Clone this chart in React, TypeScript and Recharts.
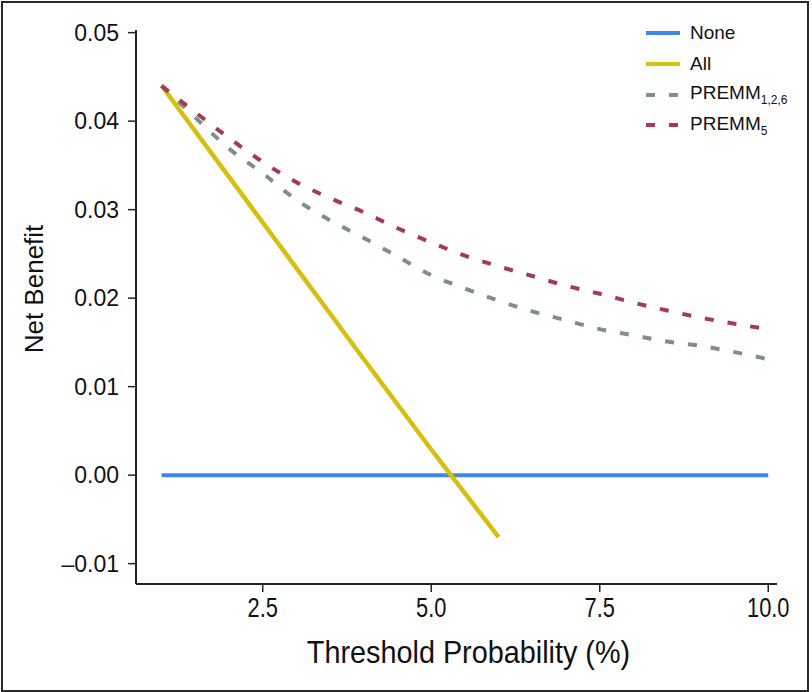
import { LineChart, Line, XAxis, YAxis, Label } from "recharts"

// threshold probability (%) for the model curves
const thresholds = [1, 1.5, 2, 2.5, 3, 3.5, 4, 4.5, 5, 5.5, 6, 6.5, 7, 7.5, 8, 8.5, 9, 9.5, 10]
const premm126 = [
  0.044, 0.0404, 0.0369, 0.0341, 0.0311, 0.0288, 0.0268, 0.0247, 0.0226, 0.0211,
  0.0197, 0.0185, 0.0175, 0.0165, 0.0158, 0.0151, 0.0146, 0.0139, 0.0131,
]
const premm5 = [
  0.044, 0.041, 0.0381, 0.0354, 0.0331, 0.0313, 0.0297, 0.0279, 0.0263, 0.0248,
  0.0236, 0.0225, 0.0214, 0.0205, 0.0195, 0.0186, 0.0178, 0.0171, 0.0165,
]
const allThresholds = [1, 2, 3, 4, 5, 6]
const allValues = [0.044, 0.0337, 0.0234, 0.0131, 0.0029, -0.007]
const noneThresholds = [1, 10]
const noneValues = [0, 0]

const xTicks = [2.5, 5, 7.5, 10]
const yTicks = [-0.01, 0, 0.01, 0.02, 0.03, 0.04, 0.05]

const toRows = (xs: number[], ys: number[]) => xs.map((x, i) => ({ x, y: ys[i] }))

const noneData = toRows(noneThresholds, noneValues)
const allData = toRows(allThresholds, allValues)
const premm126Data = toRows(thresholds, premm126)
const premm5Data = toRows(thresholds, premm5)

const fmtY = (v: number) => (v < 0 ? "\u2013" + Math.abs(v).toFixed(2) : v.toFixed(2))

const sansFont = "Liberation Sans, Arial, sans-serif"

const legendItems = [
  { name: "None", sub: "", color: "#3f86ea", dash: false },
  { name: "All", sub: "", color: "#d8be0e", dash: false },
  { name: "PREMM", sub: "1,2,6", color: "#7d8e8e", dash: true },
  { name: "PREMM", sub: "5", color: "#a63a50", dash: true },
]

function LegendBox() {
  return (
    <div style={{ position: "absolute", left: 646, top: 18, fontFamily: sansFont, fontSize: 19, color: "#111" }}>
      {legendItems.map((it, i) => (
        <div key={i} style={{ display: "flex", alignItems: "center", height: 30.7 }}>
          <svg width={34} height={8} style={{ marginRight: 10 }}>
            <line
              x1={0}
              y1={4}
              x2={34}
              y2={4}
              stroke={it.color}
              strokeWidth={4}
              strokeDasharray={it.dash ? "9 14" : undefined}
            />
          </svg>
          <span>
            {it.name}
            {it.sub && <sub style={{ fontSize: 12 }}>{it.sub}</sub>}
          </span>
        </div>
      ))}
    </div>
  )
}

// x tick labels are set in a condensed face in the original
function CondensedTick({ x, y, payload }: any) {
  return (
    <text
      transform={`translate(${x} ${y + 23}) scale(0.78 1)`}
      textAnchor="middle"
      fill="#111"
      fontSize={28}
      fontFamily={sansFont}
    >
      {payload.value.toFixed(1)}
    </text>
  )
}

export default function App() {
  return (
    <div style={{ position: "absolute", left: 0, top: 0, width: 812, height: 692, background: "#fff" }}>
      <div
        style={{
          position: "absolute",
          left: 1,
          top: 1,
          width: 804,
          height: 687,
          border: "2px solid #2a2a2a",
        }}
      />
      <LineChart width={812} height={692} margin={{ top: 30, right: 35, left: 0, bottom: 0 }}>
        <XAxis
          type="number"
          dataKey="x"
          domain={[0.62, 10.13]}
          ticks={xTicks}
          tick={<CondensedTick />}
          height={108}
          axisLine={{ stroke: "#222", strokeWidth: 2 }}
          tickLine={{ stroke: "#222", strokeWidth: 1.5 }}
          tickSize={8}
          allowDataOverflow
        >
          <Label
            content={({ viewBox }: any) => {
              const cx = viewBox.x + viewBox.width / 2 + 12
              const cy = viewBox.y + 67
              return (
                <text
                  transform={`translate(${cx} ${cy}) scale(0.9 1)`}
                  textAnchor="middle"
                  dominantBaseline="central"
                  fill="#111"
                  fontSize={32}
                  fontFamily={sansFont}
                >
                  Threshold Probability (%)
                </text>
              )
            }}
          />
        </XAxis>
        <YAxis
          type="number"
          domain={[-0.0123, 0.0503]}
          ticks={yTicks}
          tickFormatter={fmtY}
          width={136}
          axisLine={{ stroke: "#222", strokeWidth: 2 }}
          tickLine={{ stroke: "#222", strokeWidth: 1.5 }}
          tickSize={8}
          tickMargin={9}
          tick={{ fill: "#111", fontSize: 23, fontFamily: sansFont }}
          allowDataOverflow
        >
          <Label
            content={({ viewBox }: any) => {
              const cy = viewBox.y + viewBox.height / 2 - 18
              return (
                <text
                  x={34}
                  y={cy}
                  transform={`rotate(-90 34 ${cy})`}
                  textAnchor="middle"
                  dominantBaseline="central"
                  fill="#111"
                  fontSize={26}
                  fontFamily={sansFont}
                >
                  Net Benefit
                </text>
              )
            }}
          />
        </YAxis>
        <Line
          data={noneData}
          dataKey="y"
          name="None"
          stroke="#3f86ea"
          strokeWidth={4}
          dot={false}
          isAnimationActive={false}
        />
        <Line
          data={allData}
          dataKey="y"
          name="All"
          type="linear"
          stroke="#d8be0e"
          strokeWidth={4.5}
          dot={false}
          isAnimationActive={false}
        />
        <Line
          data={premm126Data}
          dataKey="y"
          name="PREMM1,2,6"
          type="monotone"
          stroke="#7d8e8e"
          strokeWidth={4}
          strokeDasharray="9 14"
          dot={false}
          isAnimationActive={false}
        />
        <Line
          data={premm5Data}
          dataKey="y"
          name="PREMM5"
          type="monotone"
          stroke="#a63a50"
          strokeWidth={4}
          strokeDasharray="9 14"
          dot={false}
          isAnimationActive={false}
        />
      </LineChart>
      <LegendBox />
    </div>
  )
}
